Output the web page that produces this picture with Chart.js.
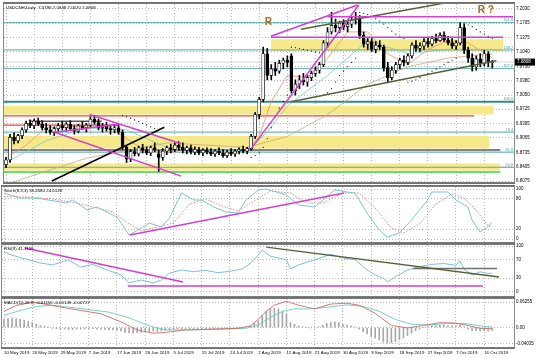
<!DOCTYPE html>
<html>
<head>
<meta charset="utf-8">
<script src="https://cdn.jsdelivr.net/npm/chart.js@4.4.1/dist/chart.umd.min.js"></script>
<style>
  html, body { margin: 0; padding: 0; background: #fff; }
  #wrap { position: relative; width: 536px; height: 358px; overflow: hidden; background: #fff; }
  canvas { position: absolute; left: 0; }
</style>
</head>
<body>
<div id="wrap">
  <canvas id="price" width="536" height="186" style="top:0px"></canvas>
  <canvas id="stoch" width="536" height="59" style="top:185px"></canvas>
  <canvas id="rsi" width="536" height="55" style="top:243px"></canvas>
  <canvas id="macd" width="536" height="61" style="top:297px"></canvas>
</div>
<script>
'use strict';

// ---- data ----
let dateLabels = ['10 May 2019', '20 May 2019', '29 May 2019', '7 Jun 2019', '17 Jun 2019', '26 Jun 2019',
  '5 Jul 2019', '15 Jul 2019', '24 Jul 2019', '2 Aug 2019', '12 Aug 2019', '21 Aug 2019', '30 Aug 2019',
  '9 Sep 2019', '18 Sep 2019', '27 Sep 2019', '7 Oct 2019', '16 Oct 2019'];
let dateIndex = [0, 7, 14, 21, 28, 35, 42, 49, 56, 63, 70, 77, 84, 91, 98, 105, 112, 119];

let priceTicks = [7.2030, 7.1705, 7.1375, 7.1040, 7.0710, 7.0380, 7.0050, 6.9725, 6.9395, 6.9065, 6.8735, 6.8405, 6.8075];
let stochTicks = [100, 80, 20, 0];
let rsiTicks = [100, 70, 30, 0];
let macdTicks = [0.06255, 0, -0.04035];

let openP = [6.845, 6.856, 6.908, 6.900, 6.912, 6.925, 6.940, 6.935, 6.945, 6.938,
  6.930, 6.925, 6.920, 6.928, 6.935, 6.930, 6.938, 6.928, 6.922, 6.934,
  6.930, 6.936, 6.950, 6.942, 6.930, 6.935, 6.928, 6.925, 6.930, 6.920,
  6.885, 6.858, 6.875, 6.870, 6.884, 6.878, 6.872, 6.884, 6.870, 6.862,
  6.876, 6.884, 6.880, 6.890, 6.885, 6.878, 6.884, 6.874, 6.880, 6.872,
  6.878, 6.874, 6.870, 6.876, 6.872, 6.866, 6.874, 6.870, 6.876, 6.880,
  6.876, 6.882, 6.910, 6.960, 6.995, 7.100, 7.050, 7.065, 7.060, 7.078,
  7.085, 7.095, 7.015, 7.030, 7.040, 7.035, 7.045, 7.055, 7.062, 7.075,
  7.125, 7.150, 7.165, 7.160, 7.170, 7.162, 7.168, 7.178, 7.180, 7.142,
  7.122, 7.128, 7.110, 7.120, 7.115, 7.068, 7.045, 7.062, 7.075, 7.085,
  7.080, 7.095, 7.120, 7.112, 7.118, 7.128, 7.122, 7.135, 7.130, 7.142,
  7.132, 7.125, 7.118, 7.125, 7.160, 7.108, 7.090, 7.070, 7.088, 7.078,
  7.100, 7.0796];
let highP = [6.862, 6.915, 6.918, 6.915, 6.930, 6.945, 6.948, 6.950, 6.952, 6.946,
  6.940, 6.935, 6.932, 6.940, 6.945, 6.942, 6.946, 6.935, 6.938, 6.944,
  6.940, 6.955, 6.958, 6.950, 6.940, 6.942, 6.935, 6.935, 6.936, 6.925,
  6.890, 6.880, 6.885, 6.888, 6.892, 6.886, 6.888, 6.895, 6.878, 6.882,
  6.888, 6.892, 6.895, 6.898, 6.895, 6.888, 6.890, 6.886, 6.885, 6.882,
  6.884, 6.882, 6.880, 6.884, 6.880, 6.878, 6.882, 6.880, 6.884, 6.888,
  6.885, 6.915, 6.965, 7.000, 7.115, 7.112, 7.075, 7.080, 7.085, 7.090,
  7.095, 7.100, 7.040, 7.050, 7.055, 7.050, 7.060, 7.070, 7.080, 7.130,
  7.160, 7.195, 7.180, 7.175, 7.178, 7.175, 7.185, 7.195, 7.188, 7.150,
  7.135, 7.135, 7.128, 7.130, 7.120, 7.080, 7.070, 7.080, 7.090, 7.095,
  7.100, 7.125, 7.130, 7.125, 7.135, 7.138, 7.140, 7.145, 7.148, 7.150,
  7.140, 7.135, 7.130, 7.170, 7.168, 7.115, 7.100, 7.095, 7.100, 7.108,
  7.105, 7.0849];
let lowP = [6.838, 6.850, 6.893, 6.895, 6.905, 6.920, 6.930, 6.928, 6.935, 6.925,
  6.918, 6.915, 6.912, 6.920, 6.925, 6.922, 6.925, 6.915, 6.918, 6.926,
  6.920, 6.930, 6.938, 6.925, 6.920, 6.922, 6.915, 6.918, 6.915, 6.880,
  6.850, 6.852, 6.865, 6.865, 6.872, 6.868, 6.866, 6.875, 6.830, 6.855,
  6.868, 6.872, 6.875, 6.878, 6.872, 6.870, 6.870, 6.868, 6.868, 6.866,
  6.870, 6.866, 6.864, 6.868, 6.862, 6.862, 6.866, 6.864, 6.870, 6.872,
  6.870, 6.878, 6.905, 6.950, 6.990, 7.040, 7.040, 7.050, 7.055, 7.065,
  7.070, 7.010, 7.005, 7.020, 7.028, 7.025, 7.038, 7.048, 7.055, 7.070,
  7.115, 7.145, 7.150, 7.148, 7.155, 7.150, 7.160, 7.168, 7.135, 7.115,
  7.110, 7.105, 7.102, 7.110, 7.060, 7.035, 7.040, 7.055, 7.065, 7.072,
  7.075, 7.090, 7.105, 7.105, 7.110, 7.115, 7.118, 7.125, 7.128, 7.128,
  7.120, 7.112, 7.110, 7.120, 7.100, 7.080, 7.060, 7.062, 7.070, 7.072,
  7.070, 7.0670];
let closeP = [6.856, 6.908, 6.900, 6.912, 6.925, 6.940, 6.935, 6.945, 6.938, 6.930,
  6.925, 6.920, 6.928, 6.935, 6.930, 6.938, 6.928, 6.922, 6.934, 6.930,
  6.936, 6.950, 6.942, 6.930, 6.935, 6.928, 6.925, 6.930, 6.920, 6.885,
  6.858, 6.875, 6.870, 6.884, 6.878, 6.872, 6.884, 6.880, 6.862, 6.876,
  6.884, 6.880, 6.890, 6.885, 6.878, 6.884, 6.874, 6.880, 6.872, 6.878,
  6.874, 6.870, 6.876, 6.872, 6.866, 6.874, 6.870, 6.876, 6.880, 6.876,
  6.882, 6.910, 6.960, 6.995, 7.100, 7.050, 7.065, 7.060, 7.078, 7.085,
  7.080, 7.015, 7.030, 7.040, 7.035, 7.045, 7.055, 7.062, 7.075, 7.125,
  7.150, 7.165, 7.160, 7.170, 7.162, 7.168, 7.178, 7.180, 7.142, 7.122,
  7.128, 7.110, 7.120, 7.115, 7.068, 7.045, 7.062, 7.075, 7.085, 7.080,
  7.095, 7.120, 7.112, 7.118, 7.128, 7.122, 7.135, 7.130, 7.142, 7.132,
  7.125, 7.118, 7.125, 7.160, 7.108, 7.090, 7.070, 7.088, 7.078, 7.100,
  7.080, 7.0808];

// moving averages, [bar, price]
let maFast = [[0, 6.86], [5, 6.89], [10, 6.93], [15, 6.932], [20, 6.933], [25, 6.935], [30, 6.905], [35, 6.875],
  [40, 6.872], [45, 6.882], [50, 6.877], [55, 6.872], [60, 6.877], [63, 6.91], [66, 6.99], [70, 7.05], [75, 7.045],
  [80, 7.09], [85, 7.15], [90, 7.15], [95, 7.10], [100, 7.075], [105, 7.11], [110, 7.13], [115, 7.125], [121, 7.09]];
let maMid = [[0, 6.85], [10, 6.90], [20, 6.93], [30, 6.925], [40, 6.885], [50, 6.878], [60, 6.876], [65, 6.92],
  [70, 6.98], [80, 7.05], [90, 7.13], [100, 7.10], [110, 7.11], [121, 7.11]];
let maSlow = [[0, 6.80], [20, 6.86], [40, 6.895], [60, 6.885], [70, 6.91], [80, 6.96], [90, 7.03], [100, 7.07],
  [110, 7.09], [121, 7.10]];

// parabolic SAR dots, [bar, price]
let sarDots = [[29, 6.958], [30, 6.955], [31, 6.952], [32, 6.948], [33, 6.944], [34, 6.940], [35, 6.936], [36, 6.932], [37, 6.928],
  [61, 6.862], [62, 6.866], [63, 6.872], [64, 6.885], [65, 6.905], [66, 6.93], [67, 6.955], [68, 6.975], [69, 6.99], [70, 7.005],
  [71, 7.115], [72, 7.114], [73, 7.112], [74, 7.11], [75, 7.108], [76, 7.106], [77, 7.104], [78, 7.102],
  [79, 7.005], [80, 7.01], [81, 7.02], [82, 7.035], [83, 7.05], [84, 7.06], [85, 7.07], [86, 7.08], [87, 7.09],
  [88, 7.195], [89, 7.193], [90, 7.19], [91, 7.185], [92, 7.18], [93, 7.175], [94, 7.168], [95, 7.16], [96, 7.152],
  [97, 7.145], [98, 7.14], [99, 7.135],
  [100, 7.035], [101, 7.037], [102, 7.04], [103, 7.045], [104, 7.05], [105, 7.055], [106, 7.06], [107, 7.065],
  [108, 7.07], [109, 7.075], [110, 7.08], [111, 7.085], [112, 7.09],
  [113, 7.172], [114, 7.17], [115, 7.166], [116, 7.162], [117, 7.156], [118, 7.15], [119, 7.145], [120, 7.14], [121, 7.135]];

// fibonacci levels
let fibLevels = [7.1716, 7.1086, 7.0660, 6.9895, 6.9200, 6.8740, 6.8390];
let fibNames = ['161.8', '138.2', '127.2', '100.0', '76.4', '61.8', '50.0'];

// horizontal zones [fromBar, toBar, top, bottom]
let yellowZones = [[65.9, 123.7, 7.1333, 7.1063], [-0.5, 121.2, 6.9805, 6.9603], [-0.5, 120.2, 6.9110, 6.8820], [-0.5, 123.0, 6.8480, 6.8320]];

// drawn lines [[bar, price], [bar, price]]
let magentaLines = [
  [[80.1, 7.185], [126.2, 7.185]],
  [[65.9, 7.138], [123.7, 7.138]],
  [[65.9, 7.140], [87.5, 7.212]],
  [[61.0, 6.882], [87.8, 7.212]],
  [[20.8, 6.9603], [43.6, 6.893]],
  [[12.1, 6.9197], [43.6, 6.8188]],
  [[12.1, 6.9197], [28.0, 6.938]]
];
let redLines = [[[-0.5, 6.957], [116.5, 6.957]], [[-0.5, 6.936], [28.0, 6.936]]];
let grayLines = [[[5.7, 6.945], [23.8, 6.945]], [[-0.5, 6.879], [123.0, 6.879]]];
let greenLines = [[[-0.5, 6.828], [123.0, 6.828]]];
let oliveLines = [[[70.9, 6.9895], [122.0, 7.084]], [[73.4, 7.156], [110.6, 7.219]]];
let blackLines = [[[11.4, 6.8075], [39.4, 6.931]]];

// stochastic [bar, value]
let stochMain = [[0, 92], [4, 82], [8, 82], [11, 78], [15.6, 72], [17, 78], [20.6, 58], [23, 64], [26, 52], [28, 44],
  [31, 8], [34, 22], [36, 32], [39, 24], [41, 42], [44, 92], [47, 78], [49, 78], [52, 64], [55, 54], [58, 52],
  [60, 78], [63, 98], [65, 100], [70, 88], [73, 68], [77, 64], [82, 98], [85, 94], [87, 92], [90, 52], [93, 18],
  [95, 4], [98, 12], [101, 38], [105, 78], [106, 94], [110, 94], [112, 78], [115, 64], [116, 38], [118, 14],
  [119.5, 22], [121, 33]];
let stochSignal = [[0, 85], [6, 84], [12, 80], [18, 72], [23, 62], [27, 54], [31, 30], [34, 16], [38, 24], [42, 32],
  [46, 70], [50, 80], [54, 66], [58, 56], [62, 76], [66, 96], [71, 92], [75, 72], [79, 72], [84, 92], [88, 92],
  [92, 62], [96, 22], [99, 12], [103, 30], [107, 70], [111, 90], [114, 82], [117, 58], [120, 26], [121, 25]];
let stochTrend = [[31.2, 8], [84.3, 92]];

// RSI [bar, value]
let rsiLine = [[0, 87], [2, 80], [6, 70], [9, 63], [12, 59], [16, 70], [19, 54], [22, 60], [25, 50], [29, 37],
  [31, 20], [34, 26], [37, 20], [39, 26], [41, 41], [44, 48], [47, 44], [50, 47], [53, 42], [56, 45], [59, 50],
  [61, 62], [63, 80], [64, 91], [66, 78], [69, 72], [70, 70], [71, 50], [73, 59], [77, 70], [79, 76], [81, 82],
  [84, 74], [87, 70], [88, 63], [89, 55], [90, 48], [92, 37], [94, 30], [95, 22], [97, 33], [100, 48], [103, 55],
  [106, 60], [109, 62], [112, 58], [113, 68], [114, 50], [116, 37], [118, 44], [120, 40], [121, 41]];
let rsiMagenta = [[[5.2, 95.7], [44.4, 21.7]], [[30.7, 13], [118.7, 13]]];
let rsiOlive = [[65, 97.8], [122.7, 32.6]];
let rsiGray = [[101.4, 51], [122.2, 51]];

// MACD
let macdHist = [0.020, 0.022, 0.024, 0.022, 0.020, 0.018, 0.015, 0.012, 0.008, 0.005,
  0.003, 0.001, -0.002, -0.003, -0.004, -0.004, -0.005, -0.005, -0.004, -0.004,
  -0.004, -0.003, -0.003, -0.004, -0.004, -0.005, -0.006, -0.006, -0.007, -0.009,
  -0.012, -0.013, -0.014, -0.013, -0.012, -0.011, -0.010, -0.009, -0.010, -0.008,
  -0.007, -0.006, -0.005, -0.004, -0.004, -0.003, -0.003, -0.003, -0.003, -0.003,
  -0.003, -0.003, -0.003, -0.003, -0.003, -0.003, -0.002, -0.002, -0.001, -0.001,
  0.000, 0.004, 0.010, 0.016, 0.030, 0.040, 0.046, 0.048, 0.046, 0.040,
  0.034, 0.012, 0.008, 0.004, 0.002, 0.001, -0.001, -0.002, 0.002, 0.006,
  0.010, 0.013, 0.014, 0.012, 0.008, 0.006, 0.004, 0.002, -0.004, -0.010,
  -0.016, -0.022, -0.026, -0.030, -0.036, -0.038, -0.038, -0.034, -0.030, -0.026,
  -0.020, -0.014, -0.008, -0.004, 0.000, 0.002, 0.004, 0.005, 0.006, 0.006,
  0.005, 0.004, 0.004, 0.006, 0.002, -0.004, -0.008, -0.008, -0.009, -0.008,
  -0.009, -0.0073];
let macdMain = [[0, 0.040], [3, 0.054], [7, 0.063], [10, 0.058], [16, 0.047], [24, 0.034], [29, 0.014], [33, -0.006],
  [37, -0.014], [40, -0.012], [45, -0.006], [52, -0.004], [58, -0.002], [61, 0.004], [63, 0.020], [65, 0.040],
  [67, 0.055], [70, 0.065], [73, 0.055], [77, 0.046], [81, 0.058], [85, 0.060], [88, 0.055], [92, 0.035],
  [96, 0.005], [100, -0.001], [104, 0.005], [108, 0.012], [112, 0.011], [115, 0.005], [118, -0.002], [121, -0.003]];
let macdSignal = [[0, 0.030], [4, 0.042], [8, 0.052], [12, 0.055], [18, 0.048], [26, 0.038], [31, 0.024], [36, 0.004],
  [40, -0.006], [46, -0.006], [54, -0.004], [60, -0.002], [63, 0.006], [66, 0.025], [69, 0.040], [72, 0.046],
  [76, 0.046], [80, 0.050], [85, 0.056], [89, 0.052], [93, 0.040], [97, 0.020], [101, 0.008], [105, 0.006],
  [110, 0.010], [114, 0.010], [118, 0.004], [121, 0.001]];

// ---- chart setup ----
Chart.defaults.font.family = '"Liberation Sans", Arial, sans-serif';
Chart.defaults.font.size = 4.5;
Chart.defaults.color = '#000';
Chart.defaults.animation = false;
Chart.defaults.plugins.legend.display = false;
Chart.defaults.plugins.tooltip.enabled = false;

let xMin = -0.5;
let xMax = 126.4;
let gridColor = '#b8b8b8';

function pts(arr) {
  return arr.map(p => ({ x: p[0], y: p[1] }));
}

function lineSet(arr, color, width, order, extra) {
  return Object.assign({
    type: 'line', data: pts(arr), borderColor: color, borderWidth: width,
    pointRadius: 0, fill: false, tension: 0, order: order
  }, extra || {});
}

function xScale(showLabels) {
  return {
    type: 'linear', min: xMin, max: xMax, offset: false,
    grid: { color: gridColor, drawTicks: false, offset: false },
    border: { display: false, dash: [1, 2] },
    ticks: {
      display: showLabels, autoSkip: false, maxRotation: 0, align: 'start', padding: 3,
      font: { size: 4.4 }, callback: (v, i) => dateLabels[i]
    },
    afterBuildTicks: s => { s.ticks = dateIndex.map(v => ({ value: v })); },
    afterFit: s => { s.height = showLabels ? 11 : 0; s.paddingLeft = 0; s.paddingRight = 0; }
  };
}

function yScale(min, max, tickList, fmt, gridOn) {
  return {
    position: 'right', min: min, max: max, beginAtZero: false,
    grid: { color: gridOn ? gridColor : 'rgba(0,0,0,0)', drawTicks: false },
    border: { display: false, dash: [1, 2] },
    ticks: { autoSkip: false, padding: 2, font: { size: 4.5 }, callback: fmt },
    afterBuildTicks: s => { s.ticks = tickList.map(v => ({ value: v })); },
    afterFit: s => { s.width = 22; s.paddingTop = 0; s.paddingBottom = 0; }
  };
}

// panel frame: thin sides, heavier top/bottom separators like the terminal
let framePlugin = {
  id: 'frame',
  afterDraw(chart) {
    let { ctx, chartArea: a } = chart;
    ctx.save();
    ctx.strokeStyle = '#8a8a8a';
    ctx.lineWidth = 1;
    ctx.strokeRect(a.left - 0.5, a.top - 0.5, a.right - a.left + 1, a.bottom - a.top + 1);
    ctx.fillStyle = '#6e6e6e';
    ctx.fillRect(a.left - 1, a.top - 2, a.right - a.left + 2, 1.5);
    ctx.fillRect(a.left - 1, a.bottom + 0.5, a.right - a.left + 2, 1.5);
    ctx.restore();
  }
};

function titlePlugin(text) {
  return {
    id: 'title_' + text.slice(0, 3),
    afterDatasetsDraw(chart) {
      let { ctx, chartArea: a } = chart;
      ctx.save();
      ctx.font = '4.4px "Liberation Sans", Arial, sans-serif';
      ctx.fillStyle = '#000';
      ctx.textBaseline = 'top';
      ctx.fillText(text, a.left + 2, a.top + 2);
      ctx.restore();
    }
  };
}

let priceNotes = {
  id: 'priceNotes',
  afterDatasetsDraw(chart) {
    let { ctx, chartArea: a, scales } = chart;
    let x = scales.x, y = scales.y;
    ctx.save();
    ctx.font = '3.8px "Liberation Sans", Arial, sans-serif';
    ctx.fillStyle = '#3f9f9f';
    ctx.textAlign = 'right';
    ctx.textBaseline = 'bottom';
    fibLevels.forEach((v, i) => ctx.fillText(fibNames[i], a.right - 1, y.getPixelForValue(v) - 0.5));
    ctx.font = 'bold 10px "Liberation Sans", Arial, sans-serif';
    ctx.fillStyle = '#b8651c';
    ctx.textAlign = 'left';
    ctx.textBaseline = 'middle';
    ctx.fillText('R', x.getPixelForValue(64.4), y.getPixelForValue(7.172));
    ctx.fillText('R ?', x.getPixelForValue(117.4), y.getPixelForValue(7.199));
    // last price tag on the axis
    let last = closeP[closeP.length - 1];
    let py = y.getPixelForValue(last);
    ctx.fillStyle = '#000';
    ctx.fillRect(a.right + 1, py - 3.5, 20, 7);
    ctx.fillStyle = '#fff';
    ctx.font = '4.5px "Liberation Sans", Arial, sans-serif';
    ctx.fillText(last.toFixed(4), a.right + 3, py);
    ctx.restore();
  }
};

// ---- price panel ----
let wickData = openP.map((o, i) => ({ x: i, y: [lowP[i], highP[i]] }));
let bodyData = openP.map((o, i) => ({ x: i, y: [Math.min(o, closeP[i]), Math.max(o, closeP[i])] }));
let bodyFill = openP.map((o, i) => (closeP[i] >= o ? '#ffffff' : '#000000'));

let priceSets = [];
yellowZones.forEach(z => {
  priceSets.push({
    type: 'line', data: [{ x: z[0], y: z[2] }, { x: z[1], y: z[2] }], borderWidth: 0, pointRadius: 0,
    fill: { value: z[3] }, backgroundColor: '#f6e98a', order: 20
  });
});
fibLevels.forEach((v, i) => {
  let strong = fibNames[i] === '100.0';
  priceSets.push(lineSet([[xMin, v], [xMax, v]], strong ? '#2e8b8b' : '#73b8b8', strong ? 2 : 1.2, 18));
});
priceSets.push(lineSet([[xMin, closeP[closeP.length - 1]], [xMax, closeP[closeP.length - 1]]], '#c8c8c8', 0.8, 19));
redLines.forEach(l => priceSets.push(lineSet(l, '#e04848', 1.2, 17)));
grayLines.forEach(l => priceSets.push(lineSet(l, '#5a5a5a', 1.5, 17)));
greenLines.forEach(l => priceSets.push(lineSet(l, '#3ccf3c', 1.5, 17)));
priceSets.push(lineSet(maSlow, '#c9aa78', 0.8, 15));
priceSets.push(lineSet(maMid, '#78c8cc', 0.8, 15));
priceSets.push(lineSet(maFast, '#e89070', 0.8, 15));
priceSets.push({
  type: 'bar', data: wickData, backgroundColor: '#000', barThickness: 1, grouped: false, order: 10
});
priceSets.push({
  type: 'bar', data: bodyData, backgroundColor: bodyFill, borderColor: '#000', borderWidth: 0.7,
  borderSkipped: false, barThickness: 3, minBarLength: 1, grouped: false, order: 9
});
priceSets.push({
  type: 'line', data: pts(sarDots), showLine: false, pointRadius: 0.6, pointBackgroundColor: '#000',
  pointBorderWidth: 0, order: 8
});
magentaLines.forEach(l => priceSets.push(lineSet(l, '#d23fd2', 1.5, 5)));
oliveLines.forEach(l => priceSets.push(lineSet(l, '#56613a', 1.5, 5)));
blackLines.forEach(l => priceSets.push(lineSet(l, '#000000', 1.5, 5)));

new Chart(document.getElementById('price'), {
  type: 'bar',
  data: { datasets: priceSets },
  options: {
    responsive: false, devicePixelRatio: 1,
    layout: { padding: { left: 2, top: 2, right: 0, bottom: 2 } },
    scales: {
      x: xScale(false),
      y: yScale(6.8053, 7.2142, priceTicks, v => v.toFixed(4), true)
    }
  },
  plugins: [framePlugin, priceNotes, titlePlugin('USDCNH,Daily  7.0796 7.0849 7.0670 7.0808')]
});

// ---- stochastic panel ----
new Chart(document.getElementById('stoch'), {
  type: 'line',
  data: {
    datasets: [
      lineSet(stochSignal, '#e06a6a', 0.8, 2, { borderDash: [1.5, 1.5] }),
      lineSet(stochMain, '#6cc0cc', 0.9, 1),
      lineSet(stochTrend, '#d23fd2', 1.5, 0)
    ]
  },
  options: {
    responsive: false, devicePixelRatio: 1,
    layout: { padding: { left: 2, top: 2, right: 0, bottom: 2 } },
    scales: {
      x: xScale(false),
      y: yScale(-6, 104, stochTicks, v => String(v), true)
    }
  },
  plugins: [framePlugin, titlePlugin('Stoch(8,3,3) 33.4580 24.6148')]
});

// ---- RSI panel ----
new Chart(document.getElementById('rsi'), {
  type: 'line',
  data: {
    datasets: [
      lineSet(rsiLine, '#70b8d8', 0.9, 3),
      lineSet(rsiGray, '#707070', 1.5, 2),
      lineSet(rsiOlive, '#56613a', 1.3, 1),
      lineSet(rsiMagenta[0], '#d23fd2', 1.5, 0),
      lineSet(rsiMagenta[1], '#d23fd2', 1.5, 0)
    ]
  },
  options: {
    responsive: false, devicePixelRatio: 1,
    layout: { padding: { left: 2, top: 2, right: 0, bottom: 2 } },
    scales: {
      x: xScale(false),
      y: yScale(-8.7, 102.2, rsiTicks, v => String(v), true)
    }
  },
  plugins: [framePlugin, titlePlugin('RSI(9) 41.3126')]
});

// ---- MACD panel ----
new Chart(document.getElementById('macd'), {
  type: 'bar',
  data: {
    datasets: [
      { type: 'bar', data: macdHist.map((v, i) => ({ x: i, y: v })), backgroundColor: '#a8a8a8', barThickness: 1, grouped: false, order: 3 },
      lineSet(macdSignal, '#6cc8c8', 0.9, 2),
      lineSet(macdMain, '#c87060', 0.9, 1)
    ]
  },
  options: {
    responsive: false, devicePixelRatio: 1,
    layout: { padding: { left: 2, top: 2, right: 0, bottom: 0 } },
    scales: {
      x: xScale(true),
      y: yScale(-0.0481, 0.0704, macdTicks, v => (v === 0 ? '0.00' : v.toFixed(5)), true)
    }
  },
  plugins: [framePlugin, titlePlugin('MACD(12,26,9) -0.01156 -0.00149 -0.00727')]
});
</script>
</body>
</html>
